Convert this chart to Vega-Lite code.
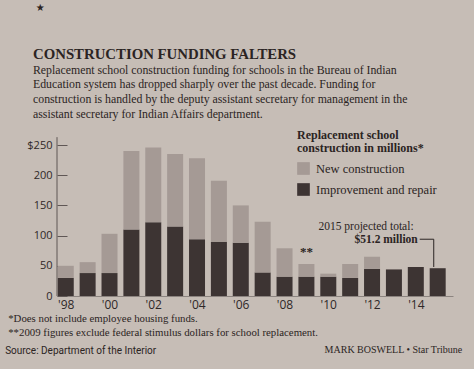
{
  "$schema": "https://vega.github.io/schema/vega-lite/v6.json",
  "autosize": "none",
  "width": 396,
  "height": 151,
  "padding": {"left": 57, "top": 145, "right": 21, "bottom": 73},
  "background": "#c6bdb6",
  "title": {
    "text": "CONSTRUCTION FUNDING FALTERS",
    "subtitle": [
      "Replacement school construction funding for schools in the Bureau of Indian",
      "Education system has dropped sharply over the past decade. Funding for",
      "construction is handled by the deputy assistant secretary for management in the",
      "assistant secretary for Indian Affairs department."
    ],
    "anchor": "start",
    "frame": "group",
    "dx": -24,
    "offset": -118,
    "font": "Liberation Serif",
    "fontSize": 14.8,
    "fontWeight": "bold",
    "color": "#2b2423",
    "subtitleFont": "Liberation Serif",
    "subtitleFontSize": 11.8,
    "subtitleColor": "#2b2423",
    "subtitleLineHeight": 14.8,
    "subtitlePadding": 3
  },
  "config": {
    "view": {"stroke": null},
    "axisY": {
      "grid": false,
      "domain": false,
      "offset": -10,
      "ticks": true,
      "tickSize": 10,
      "tickWidth": 1,
      "tickColor": "#5f5755",
      "labelPadding": 5,
      "labelOverlap": false,
      "labelFont": "Open Sans",
      "labelFontSize": 11,
      "labelColor": "#2f2828"
    },
    "axisX": {
      "grid": false,
      "ticks": false,
      "domainColor": "#8c8480",
      "labelFont": "Open Sans",
      "labelFontSize": 12,
      "labelColor": "#2f2828",
      "labelPadding": 3
    }
  },
  "layer": [
    {
      "data": {
        "values": [
          {"year": 1998, "type": "Improvement and repair", "amount": 30},
          {"year": 1998, "type": "New construction", "amount": 20},
          {"year": 1999, "type": "Improvement and repair", "amount": 38},
          {"year": 1999, "type": "New construction", "amount": 18},
          {"year": 2000, "type": "Improvement and repair", "amount": 38},
          {"year": 2000, "type": "New construction", "amount": 65},
          {"year": 2001, "type": "Improvement and repair", "amount": 110},
          {"year": 2001, "type": "New construction", "amount": 130},
          {"year": 2002, "type": "Improvement and repair", "amount": 122},
          {"year": 2002, "type": "New construction", "amount": 124},
          {"year": 2003, "type": "Improvement and repair", "amount": 115},
          {"year": 2003, "type": "New construction", "amount": 120},
          {"year": 2004, "type": "Improvement and repair", "amount": 94},
          {"year": 2004, "type": "New construction", "amount": 134},
          {"year": 2005, "type": "Improvement and repair", "amount": 90},
          {"year": 2005, "type": "New construction", "amount": 101},
          {"year": 2006, "type": "Improvement and repair", "amount": 88},
          {"year": 2006, "type": "New construction", "amount": 62},
          {"year": 2007, "type": "Improvement and repair", "amount": 39},
          {"year": 2007, "type": "New construction", "amount": 84},
          {"year": 2008, "type": "Improvement and repair", "amount": 32},
          {"year": 2008, "type": "New construction", "amount": 47},
          {"year": 2009, "type": "Improvement and repair", "amount": 32},
          {"year": 2009, "type": "New construction", "amount": 21},
          {"year": 2010, "type": "Improvement and repair", "amount": 32},
          {"year": 2010, "type": "New construction", "amount": 5},
          {"year": 2011, "type": "Improvement and repair", "amount": 30},
          {"year": 2011, "type": "New construction", "amount": 23},
          {"year": 2012, "type": "Improvement and repair", "amount": 45},
          {"year": 2012, "type": "New construction", "amount": 20},
          {"year": 2013, "type": "Improvement and repair", "amount": 44},
          {"year": 2013, "type": "New construction", "amount": 0},
          {"year": 2014, "type": "Improvement and repair", "amount": 48},
          {"year": 2014, "type": "New construction", "amount": 0},
          {"year": 2015, "type": "Improvement and repair", "amount": 46},
          {"year": 2015, "type": "New construction", "amount": 0}
        ]
      },
      "mark": {"type": "bar", "size": 16},
      "encoding": {
        "x": {
          "field": "year",
          "type": "quantitative",
          "scale": {"domain": [1997.6, 2015.7], "nice": false, "zero": false, "padding": 0},
          "axis": {"values": [1998, 2000, 2002, 2004, 2006, 2008, 2010, 2012, 2014], "labelExpr": "\"'\" + slice(format(datum.value, 'd'), 2)", "title": null}
        },
        "y": {
          "field": "amount",
          "type": "quantitative",
          "stack": "zero",
          "scale": {"domain": [0, 250], "nice": false},
          "axis": {"values": [0, 50, 100, 150, 200, 250], "labelExpr": "datum.value == 250 ? '$250' : datum.label", "title": null}
        },
        "color": {
          "field": "type",
          "type": "nominal",
          "scale": {"domain": ["New construction", "Improvement and repair"], "range": ["#a59a95", "#3d3433"]},
          "legend": {
            "title": ["Replacement school", "construction in millions*"],
            "orient": "none",
            "legendX": 240,
            "legendY": -15,
            "titleFont": "Liberation Serif",
            "titleFontSize": 12,
            "titleFontWeight": "bold",
            "titleColor": "#2b2423",
            "titleLineHeight": 13,
            "titlePadding": 7,
            "labelFont": "Liberation Serif",
            "labelFontSize": 12.5,
            "labelColor": "#2b2423",
            "symbolType": "square",
            "symbolSize": 160,
            "symbolStrokeWidth": 0,
            "symbolOpacity": 1,
            "rowPadding": 8,
            "labelOffset": 6
          }
        },
        "order": {"field": "type", "sort": "ascending"}
      }
    },
    {
      "data": {"values": [{}]},
      "mark": {"type": "rule", "color": "#5f5755", "strokeWidth": 1},
      "encoding": {
        "x": {"datum": 1997.6, "axis": {"values": [1998, 2000, 2002, 2004, 2006, 2008, 2010, 2012, 2014], "labelExpr": "\"'\" + slice(format(datum.value, 'd'), 2)", "title": null}},
        "y": {"datum": 0, "axis": {"values": [0, 50, 100, 150, 200, 250], "labelExpr": "datum.value == 250 ? '$250' : datum.label", "title": null}},
        "y2": {"datum": 263}
      }
    },
    {
      "data": {"values": [{"label": "**"}]},
      "mark": {"type": "text", "font": "Liberation Serif", "fontSize": 13, "fontWeight": "bold", "color": "#2b2423", "baseline": "middle"},
      "encoding": {
        "x": {"datum": 2009.0, "axis": {"values": [1998, 2000, 2002, 2004, 2006, 2008, 2010, 2012, 2014], "labelExpr": "\"'\" + slice(format(datum.value, 'd'), 2)", "title": null}},
        "y": {"datum": 73, "axis": {"values": [0, 50, 100, 150, 200, 250], "labelExpr": "datum.value == 250 ? '$250' : datum.label", "title": null}},
        "text": {"field": "label"}
      }
    },
    {
      "data": {"values": [{"label": "2015 projected total:"}]},
      "mark": {"type": "text", "font": "Liberation Serif", "fontSize": 11.5, "color": "#2b2423", "baseline": "middle", "align": "right"},
      "encoding": {
        "x": {"datum": 2013.9, "axis": {"values": [1998, 2000, 2002, 2004, 2006, 2008, 2010, 2012, 2014], "labelExpr": "\"'\" + slice(format(datum.value, 'd'), 2)", "title": null}},
        "y": {"datum": 115, "axis": {"values": [0, 50, 100, 150, 200, 250], "labelExpr": "datum.value == 250 ? '$250' : datum.label", "title": null}},
        "text": {"field": "label"}
      }
    },
    {
      "data": {"values": [{"label": "$51.2 million"}]},
      "mark": {"type": "text", "font": "Liberation Serif", "fontSize": 11.5, "fontWeight": "bold", "color": "#2b2423", "baseline": "middle", "align": "right"},
      "encoding": {
        "x": {"datum": 2014.09, "axis": {"values": [1998, 2000, 2002, 2004, 2006, 2008, 2010, 2012, 2014], "labelExpr": "\"'\" + slice(format(datum.value, 'd'), 2)", "title": null}},
        "y": {"datum": 93, "axis": {"values": [0, 50, 100, 150, 200, 250], "labelExpr": "datum.value == 250 ? '$250' : datum.label", "title": null}},
        "text": {"field": "label"}
      }
    },
    {
      "data": {"values": [{}]},
      "mark": {"type": "rule", "color": "#2b2423", "strokeWidth": 1},
      "encoding": {
        "x": {"datum": 2014.18, "axis": {"values": [1998, 2000, 2002, 2004, 2006, 2008, 2010, 2012, 2014], "labelExpr": "\"'\" + slice(format(datum.value, 'd'), 2)", "title": null}},
        "x2": {"datum": 2014.82},
        "y": {"datum": 94, "axis": {"values": [0, 50, 100, 150, 200, 250], "labelExpr": "datum.value == 250 ? '$250' : datum.label", "title": null}}
      }
    },
    {
      "data": {"values": [{}]},
      "mark": {"type": "rule", "color": "#2b2423", "strokeWidth": 1},
      "encoding": {
        "x": {"datum": 2014.82, "axis": {"values": [1998, 2000, 2002, 2004, 2006, 2008, 2010, 2012, 2014], "labelExpr": "\"'\" + slice(format(datum.value, 'd'), 2)", "title": null}},
        "y": {"datum": 94, "axis": {"values": [0, 50, 100, 150, 200, 250], "labelExpr": "datum.value == 250 ? '$250' : datum.label", "title": null}},
        "y2": {"datum": 48}
      }
    },
    {
      "data": {"values": [{"label": "*Does not include employee housing funds."}]},
      "mark": {"type": "text", "font": "Liberation Serif", "fontSize": 10.8, "color": "#2b2423", "baseline": "middle", "align": "left"},
      "encoding": {
        "x": {"datum": 1995.37, "axis": {"values": [1998, 2000, 2002, 2004, 2006, 2008, 2010, 2012, 2014], "labelExpr": "\"'\" + slice(format(datum.value, 'd'), 2)", "title": null}},
        "y": {"datum": -38, "axis": {"values": [0, 50, 100, 150, 200, 250], "labelExpr": "datum.value == 250 ? '$250' : datum.label", "title": null}},
        "text": {"field": "label"}
      }
    },
    {
      "data": {"values": [{"label": "**2009 figures exclude federal stimulus dollars for school replacement."}]},
      "mark": {"type": "text", "font": "Liberation Serif", "fontSize": 10.8, "color": "#2b2423", "baseline": "middle", "align": "left"},
      "encoding": {
        "x": {"datum": 1995.37, "axis": {"values": [1998, 2000, 2002, 2004, 2006, 2008, 2010, 2012, 2014], "labelExpr": "\"'\" + slice(format(datum.value, 'd'), 2)", "title": null}},
        "y": {"datum": -61, "axis": {"values": [0, 50, 100, 150, 200, 250], "labelExpr": "datum.value == 250 ? '$250' : datum.label", "title": null}},
        "text": {"field": "label"}
      }
    },
    {
      "data": {"values": [{"label": "Source: Department of the Interior"}]},
      "mark": {"type": "text", "font": "Roboto", "fontSize": 10, "color": "#2b2423", "baseline": "middle", "align": "left"},
      "encoding": {
        "x": {"datum": 1995.23, "axis": {"values": [1998, 2000, 2002, 2004, 2006, 2008, 2010, 2012, 2014], "labelExpr": "\"'\" + slice(format(datum.value, 'd'), 2)", "title": null}},
        "y": {"datum": -91, "axis": {"values": [0, 50, 100, 150, 200, 250], "labelExpr": "datum.value == 250 ? '$250' : datum.label", "title": null}},
        "text": {"field": "label"}
      }
    },
    {
      "data": {"values": [{"label": "MARK BOSWELL • Star Tribune"}]},
      "mark": {"type": "text", "font": "Liberation Serif", "fontSize": 10, "color": "#2b2423", "baseline": "middle", "align": "right"},
      "encoding": {
        "x": {"datum": 2016.12, "axis": {"values": [1998, 2000, 2002, 2004, 2006, 2008, 2010, 2012, 2014], "labelExpr": "\"'\" + slice(format(datum.value, 'd'), 2)", "title": null}},
        "y": {"datum": -89, "axis": {"values": [0, 50, 100, 150, 200, 250], "labelExpr": "datum.value == 250 ? '$250' : datum.label", "title": null}},
        "text": {"field": "label"}
      }
    },
    {
      "data": {"values": [{"label": "★"}]},
      "mark": {"type": "text", "font": "DejaVu Sans", "fontSize": 10, "color": "#2b2423", "baseline": "middle", "align": "center"},
      "encoding": {
        "x": {"datum": 1996.83, "axis": {"values": [1998, 2000, 2002, 2004, 2006, 2008, 2010, 2012, 2014], "labelExpr": "\"'\" + slice(format(datum.value, 'd'), 2)", "title": null}},
        "y": {"datum": 477, "axis": {"values": [0, 50, 100, 150, 200, 250], "labelExpr": "datum.value == 250 ? '$250' : datum.label", "title": null}},
        "text": {"field": "label"}
      }
    }
  ]
}
